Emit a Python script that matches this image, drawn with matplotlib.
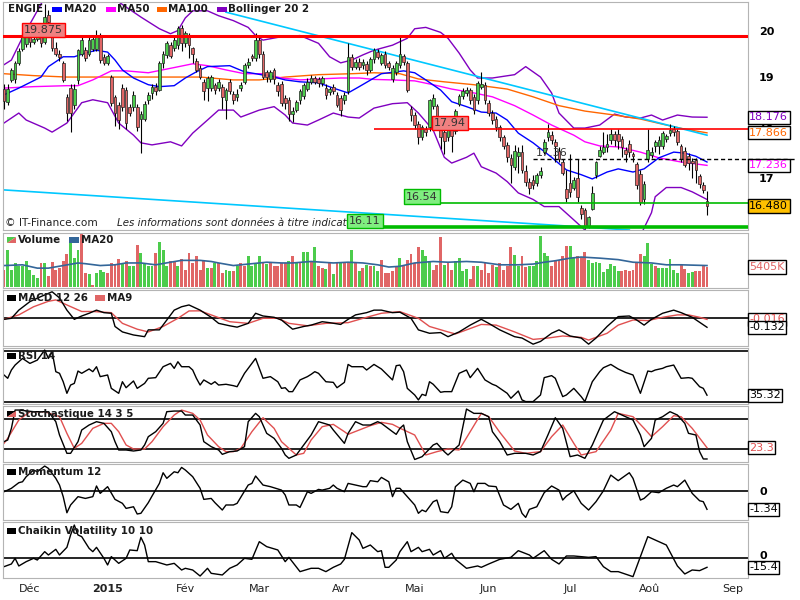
import matplotlib
matplotlib.use("Agg")
import matplotlib.pyplot as plt
from matplotlib.patches import Rectangle, Polygon
from matplotlib.ticker import NullLocator, NullFormatter
import numpy as np

plt.rcParams["font.family"] = "DejaVu Sans"

# daily candles, index 0 = 20 Nov 2014 ... 190 = 21 Aug 2015
opens = [18.75, 18.48, 18.94, 18.95, 19.30, 19.60, 19.70, 19.85, 19.75, 19.82,
         19.90, 19.75, 20.35, 19.85, 19.62, 19.50, 19.30, 18.58, 18.78, 18.42,
         18.94, 19.50, 19.57, 19.50, 19.60, 19.60, 19.88, 19.42, 19.30, 19.00,
         18.58, 18.42, 18.78, 18.73, 18.38, 18.38, 18.38, 18.15, 18.15, 18.52,
         18.67, 18.80, 18.73, 19.30, 19.47, 19.68, 19.62, 19.68, 20.05, 19.72,
         19.90, 19.62, 19.35, 19.20, 18.90, 18.78, 18.78, 18.83, 18.78, 18.80,
         18.52, 18.90, 18.65, 18.58, 18.77, 18.90, 19.25, 19.45, 19.40, 19.80,
         19.50, 19.10, 18.95, 19.15, 18.83, 18.86, 18.56, 18.52, 18.25, 18.32,
         18.52, 18.60, 18.75, 18.90, 18.97, 18.95, 18.88, 18.78, 18.68, 18.80,
         18.62, 18.56, 18.52, 18.70, 19.42, 19.22, 19.32, 19.25, 19.28, 19.15,
         19.38, 19.53, 19.30, 19.50, 19.30, 18.95, 19.10, 19.25, 19.45, 19.30,
         18.35, 18.22, 18.05, 17.78, 17.95, 17.98, 18.40, 18.40, 18.15, 17.88,
         17.78, 17.92, 17.90, 18.45, 18.60, 18.67, 18.73, 18.58, 18.52, 18.80,
         18.83, 18.46, 18.27, 18.15, 17.98, 17.78, 17.62, 17.38, 17.20, 17.42,
         17.50, 17.12, 16.93, 16.96, 16.90, 17.05, 17.50, 17.78, 17.82, 17.68,
         17.52, 17.30, 16.80, 16.90, 16.82, 17.00, 16.45, 16.40, 16.10, 16.42,
         17.05, 17.42, 17.50, 17.58, 17.72, 17.85, 17.85, 17.75, 17.53, 17.65,
         17.45, 17.26, 17.08, 16.60, 17.35, 17.43, 17.60, 17.60, 17.60, 17.75,
         17.86, 17.95, 17.90, 17.60, 17.52, 17.42, 17.32, 17.33, 17.03, 16.86, 16.58]
closes = [18.50, 18.76, 19.15, 19.30, 19.55, 19.88, 19.85, 19.75, 19.82, 19.90,
          19.72, 20.30, 20.20, 19.62, 19.50, 19.42, 18.94, 18.27, 18.27, 18.76,
          19.57, 19.80, 19.40, 19.80, 19.82, 19.90, 19.36, 19.30, 19.45, 18.46,
          18.27, 18.12, 18.38, 18.06, 18.27, 18.62, 17.98, 18.25, 18.45, 18.62,
          18.80, 18.70, 19.30, 19.50, 19.72, 19.45, 19.79, 20.05, 19.72, 19.95,
          19.68, 19.50, 19.15, 19.00, 18.70, 18.98, 19.00, 18.73, 18.90, 18.58,
          18.73, 18.70, 18.52, 18.65, 18.84, 19.25, 19.32, 19.40, 19.80, 19.50,
          19.00, 19.00, 19.10, 18.95, 18.70, 18.46, 18.46, 18.25, 18.30, 18.48,
          18.70, 18.83, 18.90, 18.98, 18.90, 18.87, 18.97, 18.63, 18.75, 18.72,
          18.42, 18.32, 18.62, 19.42, 19.22, 19.32, 19.22, 19.32, 19.15, 19.38,
          19.57, 19.42, 19.47, 19.25, 19.22, 19.20, 19.30, 19.50, 19.32, 18.73,
          18.22, 18.02, 17.78, 17.98, 17.88, 18.52, 18.56, 18.05, 17.78, 17.70,
          17.95, 17.80, 18.30, 18.60, 18.70, 18.73, 18.52, 18.32, 18.87, 18.86,
          18.52, 18.27, 18.12, 17.98, 17.78, 17.60, 17.40, 17.25, 17.52, 17.50,
          17.15, 16.93, 16.82, 16.87, 17.05, 17.12, 17.68, 17.88, 17.72, 17.60,
          17.35, 17.10, 16.63, 16.73, 16.96, 16.65, 16.33, 16.10, 16.28, 16.72,
          17.30, 17.53, 17.58, 17.65, 17.85, 17.72, 17.70, 17.58, 17.45, 17.50,
          17.41, 16.87, 16.55, 16.88, 17.53, 17.50, 17.68, 17.72, 17.86, 17.80,
          17.92, 17.88, 17.68, 17.35, 17.25, 17.28, 17.29, 17.15, 16.88, 16.78, 16.48]
highs = [18.85, 18.85, 19.20, 19.35, 19.62, 19.95, 19.95, 19.95, 19.90, 19.98,
         20.00, 20.60, 20.45, 19.95, 19.75, 19.58, 19.35, 18.65, 18.85, 18.85,
         19.60, 19.90, 19.65, 19.90, 19.90, 20.02, 19.95, 19.50, 19.50, 19.05,
         18.62, 18.48, 18.85, 18.80, 18.45, 18.70, 18.45, 18.30, 18.50, 18.68,
         18.85, 18.88, 19.35, 19.55, 19.78, 19.75, 19.85, 20.10, 20.12, 20.00,
         19.95, 19.65, 19.40, 19.25, 18.95, 19.02, 19.05, 18.88, 18.95, 18.85,
         18.78, 18.95, 18.70, 18.75, 18.90, 19.30, 19.40, 19.50, 19.95, 19.85,
         19.55, 19.15, 19.15, 19.20, 18.90, 18.92, 18.62, 18.58, 18.38, 18.52,
         18.75, 18.88, 18.98, 19.05, 19.02, 19.00, 19.02, 18.85, 18.80, 18.85,
         18.68, 18.62, 18.68, 19.72, 19.50, 19.38, 19.40, 19.38, 19.35, 19.42,
         19.62, 19.60, 19.52, 19.55, 19.35, 19.25, 19.35, 19.85, 19.50, 19.35,
         18.40, 18.28, 18.10, 18.02, 18.00, 18.55, 18.65, 18.45, 18.20, 17.95,
         18.00, 17.98, 18.35, 18.65, 18.78, 18.80, 18.78, 18.65, 18.92, 19.10,
         18.90, 18.52, 18.32, 18.20, 18.02, 17.82, 17.68, 17.45, 17.62, 17.58,
         17.62, 17.25, 17.00, 17.05, 17.10, 17.20, 17.75, 18.05, 17.90, 17.75,
         17.58, 17.35, 17.15, 17.45, 17.02, 17.35, 16.50, 16.45, 16.30, 16.85,
         17.32, 17.60, 17.88, 17.85, 17.95, 17.90, 17.95, 17.80, 17.58, 17.72,
         17.50, 17.30, 17.15, 16.95, 17.95, 17.58, 17.72, 17.80, 17.90, 17.85,
         18.05, 18.00, 17.95, 17.65, 17.58, 17.48, 17.38, 17.38, 17.08, 16.92, 16.75]
lows = [18.35, 18.42, 18.90, 18.88, 19.25, 19.55, 19.65, 19.65, 19.70, 19.78,
        19.65, 19.70, 20.10, 19.55, 19.45, 19.35, 18.90, 18.10, 17.88, 18.35,
        18.85, 19.45, 19.35, 19.45, 19.55, 19.55, 19.30, 19.25, 19.25, 18.40,
        18.00, 17.95, 18.30, 17.95, 18.20, 18.30, 17.90, 17.48, 18.10, 18.45,
        18.55, 18.62, 18.70, 19.20, 19.40, 19.40, 19.55, 19.60, 19.55, 19.65,
        19.40, 19.30, 19.10, 18.95, 18.52, 18.50, 18.70, 18.65, 18.70, 18.35,
        18.15, 18.65, 18.45, 18.50, 18.70, 18.85, 19.20, 19.35, 19.35, 19.40,
        18.95, 18.90, 18.90, 18.85, 18.60, 18.40, 18.35, 18.10, 18.08, 18.28,
        18.45, 18.55, 18.70, 18.85, 18.85, 18.80, 18.82, 18.55, 18.62, 18.65,
        18.38, 18.20, 18.45, 18.65, 19.15, 19.18, 19.15, 19.18, 19.05, 19.10,
        19.30, 19.38, 19.25, 19.20, 19.15, 18.90, 19.05, 19.20, 19.25, 18.68,
        18.10, 17.95, 17.65, 17.72, 17.80, 17.90, 18.35, 17.95, 17.55, 17.45,
        17.70, 17.50, 17.85, 18.40, 18.55, 18.60, 18.45, 18.25, 18.45, 18.75,
        18.45, 18.20, 18.05, 17.90, 17.70, 17.55, 17.30, 16.90, 17.15, 17.10,
        17.10, 16.85, 16.70, 16.80, 16.85, 17.00, 17.45, 17.70, 17.65, 17.30,
        17.30, 17.05, 16.55, 16.65, 16.78, 16.55, 16.25, 16.07, 16.08, 16.40,
        17.00, 17.40, 17.45, 17.50, 17.65, 17.60, 17.55, 17.40, 17.30, 17.40,
        17.30, 16.80, 16.50, 16.52, 17.30, 17.38, 17.50, 17.45, 17.55, 17.68,
        17.80, 17.80, 17.62, 17.30, 17.20, 17.15, 17.00, 16.90, 16.82, 16.72, 16.32]

# volume in millions, 1 = green bar
volume = [4.5, 9.9, 4.7, 6.5, 5.6, 5.6, 6.9, 4.5, 3.3, 2.4,
          6.5, 6.5, 3.1, 6.8, 4.7, 5.1, 6.9, 8.9, 11.9, 7.8,
          9.9, 14.4, 3.8, 3.6, 0.6, 3.8, 4.5, 4.0, 3.8, 6.5,
          6.0, 7.6, 6.5, 6.9, 5.6, 5.8, 11.4, 9.2, 6.5, 5.6,
          5.6, 9.2, 12.3, 9.9, 5.6, 6.9, 6.9, 5.6, 7.6, 4.7,
          9.2, 6.5, 8.3, 4.7, 6.9, 5.1, 5.1, 6.5, 6.5, 3.8,
          4.5,
          4.2, 4.2, 5.8, 6.5, 5.8, 8.3, 5.6, 6.5, 8.5, 6.5,
          6.3, 6.5, 5.8, 5.8, 6.5, 6.5, 7.1, 8.5, 6.5, 6.7,
          9.5, 9.5, 6.9, 10.8, 5.6, 5.1, 4.9, 6.5, 3.6, 6.5,
          6.5, 6.5, 6.5, 10.1, 6.5, 4.2, 5.1, 6.0, 5.6, 5.6,
          4.2, 7.4, 3.8, 3.8, 4.2, 5.4, 7.8,
          5.6, 7.2, 9.0, 6.5, 10.8, 9.9, 8.5, 6.9, 4.5, 6.0,
          13.5, 6.0, 6.5, 4.5, 6.9, 7.8, 4.2, 4.9, 2.2, 5.6,
          5.8, 4.7, 6.5, 3.8, 6.0, 5.4, 6.5, 4.7, 5.6, 10.8,
          8.7, 5.8, 8.5, 5.4, 5.8, 5.8, 6.9, 13.7, 9.2, 8.5,
          5.6, 6.9, 7.2, 8.5, 11.2, 11.2, 7.8, 8.3, 8.1, 9.4,
          7.2, 6.5, 6.7, 6.5, 4.0, 4.9, 6.3, 5.8, 4.2, 4.2,
          4.7, 4.2, 4.7, 6.7, 9.0, 8.5, 11.9, 6.3, 5.8, 5.1,
          5.1, 5.1, 7.6, 4.7, 3.8, 5.9, 4.9, 3.8, 4.0, 4.2,
          4.2, 5.6, 5.405]
vol_up = [0, 1, 1, 1, 1, 1, 1, 1, 1, 1,
          0, 1, 0, 0, 0, 0, 0, 0, 1, 1,
          1, 0, 0, 1, 0, 1, 1, 1, 0, 0,
          0, 0, 1, 0, 1, 1, 0, 1, 1, 1,
          1, 0, 1, 1, 1, 0, 0, 1, 0, 0,
          0, 0, 0, 0, 0, 1, 0, 1, 0, 0,
          1,
          1, 0, 1, 0, 0, 1, 1, 1, 1, 0,
          1, 0, 0, 0, 0, 0, 1, 0, 1, 0,
          1, 1, 0, 1, 0, 0, 1, 0, 1, 0,
          1, 0, 0, 1, 0, 1, 0, 1, 0, 1,
          1, 0, 0, 0, 0, 0, 1,
          0, 0, 0, 0, 0, 1, 1, 1, 0, 0,
          0, 1, 0, 0, 1, 1, 1, 1, 0, 0,
          1, 0, 0, 0, 0, 1, 0, 0, 0, 0,
          1, 1, 0, 0, 1, 1, 1, 1, 1, 1,
          0, 0, 0, 0, 0, 1, 1, 0, 0, 0,
          1, 1, 1, 1, 1, 1, 1, 1, 1, 0,
          0, 0, 0, 0, 0, 1, 1, 1, 0, 1,
          1, 1, 1, 1, 1, 0, 0, 1, 1, 0,
          0, 0, 0]

# indicator lines as (day index, value) vertices
ma20_x = [0, 4, 10, 12, 16, 19, 22, 25, 28, 30, 32, 35, 39, 42, 46, 49, 52, 55, 61, 65,
          68, 73, 76, 80, 85, 89, 93, 96, 100, 102, 108, 111, 114, 118, 121, 125, 129, 133, 136, 139,
          143, 148, 152, 156, 159, 163, 166, 170, 173, 177, 181, 184, 187, 190]
ma20_y = [18.63, 18.77, 19.00, 19.22, 19.43, 19.43, 19.51, 19.57, 19.53, 19.36,
          19.15, 18.98, 18.84, 18.80, 18.82, 18.98, 19.11, 19.22, 19.24, 19.11,
          19.07, 19.00, 18.94, 18.90, 18.88, 18.77, 18.67, 18.80, 18.98, 19.07,
          19.13, 19.09, 18.94, 18.73, 18.49, 18.39, 18.28, 18.26, 18.12, 17.86,
          17.67, 17.39, 17.15, 17.06, 16.98, 17.11, 17.17, 17.11, 17.17, 17.38,
          17.49, 17.47, 17.41, 17.30]
ma50_x = [0, 8, 17, 20, 24, 29, 33, 39, 46, 51, 55, 60, 65, 70, 75, 80, 85, 91, 96, 100,
          105, 111, 116, 121, 127, 132, 138, 143, 148, 154, 157, 161, 166, 172, 177, 183, 190]
ma50_y = [18.77, 18.80, 18.82, 18.82, 18.94, 19.13, 19.13, 19.09, 19.20, 19.28,
          19.24, 19.15, 19.07, 19.07, 18.98, 18.94, 18.96, 18.98, 18.98, 18.95,
          18.94, 18.92, 18.84, 18.75, 18.67, 18.59, 18.41, 18.22, 18.02, 17.82,
          17.69, 17.61, 17.59, 17.49, 17.38, 17.30, 17.236]
ma100_x = [0, 8, 17, 26, 35, 44, 53, 62, 69, 76, 85, 94, 100, 107, 112, 119, 127, 136, 143, 150,
           157, 165, 172, 179, 184, 190]
ma100_y = [19.07, 19.03, 19.00, 19.00, 19.00, 19.00, 19.00, 18.94, 18.94, 19.00,
           19.05, 19.07, 19.09, 19.07, 18.96, 18.90, 18.84, 18.75, 18.59, 18.41,
           18.30, 18.22, 18.14, 18.02, 17.94, 17.866]
bb_up_x = [0, 2, 5, 9, 12, 16, 24, 31, 37, 42, 45, 47, 49, 51, 55, 58, 62, 66, 68, 70,
           74, 80, 85, 88, 91, 94, 97, 100, 105, 109, 111, 114, 118, 120, 123, 126, 128, 132, 138, 141,
           145, 148, 150, 154, 157, 161, 165, 168, 172, 175, 178, 182, 186, 190]
bb_up_y = [19.26, 19.36, 19.85, 20.44, 20.90, 21.00, 21.00, 20.64, 20.30, 20.04,
           19.93, 20.00, 20.28, 20.44, 20.44, 20.33, 20.22, 20.07, 19.89, 19.79,
           19.85, 19.89, 19.72, 19.43, 19.30, 19.36, 19.47, 19.57, 19.68, 19.83,
           20.04, 20.07, 19.96, 19.83, 19.51, 19.15, 18.98, 18.98, 19.05, 19.22,
           19.00, 18.67, 18.26, 17.96, 17.96, 18.02, 18.24, 18.18, 18.16, 18.22,
           18.12, 18.22, 18.18, 18.176]
bb_lo_x = [0, 4, 6, 11, 13, 17, 21, 24, 28, 31, 35, 37, 40, 45, 48, 51, 55, 58, 62, 64,
           69, 73, 76, 78, 82, 85, 89, 93, 96, 100, 105, 109, 112, 116, 119, 121, 125, 127, 129, 133,
           136, 139, 143, 146, 150, 154, 157, 160, 166, 172, 175, 176, 179, 183, 186, 190]
bb_lo_y = [18.06, 18.26, 18.12, 17.96, 17.88, 18.06, 18.47, 18.53, 18.47, 18.06,
           17.82, 17.67, 17.63, 17.69, 17.61, 17.86, 18.12, 18.32, 18.32, 18.18,
           18.32, 18.39, 18.22, 18.06, 18.02, 18.12, 18.26, 18.18, 18.16, 18.36,
           18.45, 18.47, 18.26, 17.92, 17.39, 17.28, 17.39, 17.47, 17.21, 17.09,
           16.93, 16.72, 16.60, 16.47, 16.47, 16.23, 16.05, 15.90, 15.85, 15.95,
           16.36, 16.65, 16.82, 16.82, 16.74, 16.60]
trend_hi_x = [60, 190]
trend_hi_y = [20.41, 17.82]
trend_lo_x = [-1, 169]
trend_lo_y = [16.78, 16.05]

vma_x = [0, 5, 9, 12, 16, 20, 22, 26, 30, 33, 37, 41, 45, 48, 53, 56, 58, 62, 67, 71,
         75, 78, 83, 86, 89, 93, 97, 101, 104, 107, 111, 116, 120, 125, 129, 134, 139, 143, 146, 149,
         153, 156, 161, 166, 170, 175, 179, 183, 190]
vma_y = [5.8, 6.0, 5.1, 5.1, 5.8, 6.5, 6.3, 5.8, 6.0, 6.5, 6.5, 6.0, 6.7, 7.2, 7.2, 6.9, 6.5, 5.8, 6.3, 6.7,
         6.5, 6.5, 6.9, 6.7, 6.5, 6.7, 6.5, 6.0, 5.4, 5.6, 6.5, 6.9, 6.7, 6.9, 6.7, 6.0, 6.0, 6.2, 6.7, 7.1,
         7.8, 8.1, 7.8, 7.4, 6.7, 6.5, 6.0, 6.0, 5.8]

macd_x = [0, 2, 4, 7, 10, 13, 15, 17, 19, 21, 23, 25, 27, 29, 30, 32, 35, 38, 39, 42,
          44, 46, 48, 50, 53, 56, 58, 61, 63, 66, 68, 70, 73, 75, 78, 81, 83, 86, 88, 91,
          93, 95, 98, 100, 102, 105, 107, 110, 112, 115, 118, 120, 123, 126, 129, 131, 134, 138, 140, 143,
          145, 148, 150, 153, 156, 158, 160, 163, 166, 169, 171, 173, 175, 178, 181, 183, 186, 190]
macd_y = [-0.015, 0.0, 0.12, 0.245, 0.32, 0.39, 0.30, 0.12, -0.015, 0.034,
          0.074, 0.12, 0.083, 0.074, -0.12, -0.2, -0.245, -0.27, -0.17, -0.17,
          -0.025, 0.12, 0.17, 0.196, 0.12, 0.015, -0.074, -0.11, -0.13, -0.074,
          0.074, 0.034, 0.015, -0.025, -0.16, -0.12, -0.1, -0.05, -0.064, -0.09,
          -0.015, 0.05, 0.083, 0.12, 0.12, 0.083, 0.09, 0.0, -0.17, -0.22,
          -0.21, -0.27, -0.2, -0.1, -0.015, -0.074, -0.17, -0.27, -0.29, -0.38,
          -0.34, -0.22, -0.17, -0.26, -0.29, -0.38, -0.29, -0.12, 0.025, 0.034,
          -0.025, -0.1, -0.015, 0.074, 0.12, 0.083, 0.015, -0.132]
sig_x = [0, 4, 8, 12, 14, 17, 21, 24, 29, 32, 36, 39, 43, 47, 50, 53, 56, 61, 66, 70,
         74, 77, 82, 87, 93, 98, 102, 107, 112, 115, 120, 122, 126, 129, 133, 138, 143, 147, 151, 156,
         158, 163, 166, 170, 174, 178, 182, 185, 188, 190]
sig_y = [-0.015, 0.05, 0.17, 0.25, 0.27, 0.196, 0.1, 0.1, 0.083, -0.074,
         -0.16, -0.2, -0.12, 0.0, 0.108, 0.11, 0.05, -0.05, -0.074, 0.0,
         0.0, -0.074, -0.11, -0.074, -0.064, 0.015, 0.074, 0.098, 0.0, -0.12,
         -0.2, -0.23, -0.15, -0.09, -0.1, -0.2, -0.31, -0.29, -0.26, -0.28,
         -0.32, -0.22, -0.1, -0.025, -0.034, 0.015, 0.05, 0.05, 0.015, -0.016]

rsi_x = [0, 1, 2, 3, 5, 7, 9, 10, 11, 12, 13, 14, 15, 16, 17, 18, 19, 20, 21, 23,
         24, 25, 26, 28, 29, 31, 32, 33, 35, 36, 38, 39, 41, 43, 45, 46, 47, 48, 50, 51,
         52, 53, 54, 56, 57, 58, 60, 62, 63, 65, 66, 68, 70, 72, 74, 75, 76, 77, 78, 80,
         82, 83, 84, 85, 87, 89, 90, 92, 93, 94, 97, 98, 100, 101, 102, 105, 106, 107, 108, 109,
         111, 112, 113, 114, 115, 116, 118, 119, 121, 123, 125, 126, 128, 130, 132, 133, 136, 137, 139, 140,
         141, 143, 145, 146, 148, 149, 151, 152, 154, 156, 157, 159, 161, 162, 164, 166, 168, 170, 172, 174,
         175, 176, 178, 179, 181, 183, 185, 186, 188, 189, 190]
rsi_y = [51.2, 48.6, 55.1, 59.0, 64.2, 60.3, 62.9, 66.9, 70.8, 64.2,
         69.5, 53.8, 52.5, 45.9, 36.8, 43.3, 44.6, 54.3, 52.5, 55.9,
         53.8, 57.7, 49.9, 51.2, 40.7, 36.8, 45.9, 41.2, 46.5, 40.7,
         44.6, 48.6, 49.1, 57.7, 60.3, 56.4, 61.6, 57.7, 57.7, 55.1,
         48.6, 43.3, 47.3, 43.9, 45.9, 43.3, 43.9, 42.8, 42.0, 52.5,
         56.4, 64.2, 48.6, 49.9, 45.9, 40.7, 41.2, 38.1, 38.1, 47.3,
         49.9, 51.7, 53.8, 52.5, 45.9, 45.4, 41.2, 45.4, 59.5, 57.7,
         57.7, 55.1, 59.5, 57.7, 55.9, 47.3, 58.5, 59.0, 53.8, 40.7,
         35.5, 31.6, 36.0, 35.0, 45.9, 43.9, 37.6, 38.1, 38.1, 52.5,
         55.1, 49.1, 56.4, 47.3, 43.9, 42.8, 36.8, 32.9, 38.6, 31.6,
         30.3, 30.3, 35.5, 49.1, 50.7, 48.6, 34.2, 35.5, 40.7, 34.2,
         30.3, 45.9, 53.8, 56.9, 59.5, 55.9, 53.2, 51.2, 36.8, 54.3,
         53.8, 55.1, 56.4, 57.7, 59.0, 48.6, 49.1, 48.6, 42.0, 40.7, 35.32]

stk_x = [0, 1, 2, 3, 4, 8, 12, 14, 15, 17, 18, 20, 21, 23, 25, 27, 29, 30, 31, 33,
         35, 37, 38, 39, 41, 43, 44, 46, 48, 49, 51, 53, 54, 56, 58, 59, 61, 63, 65, 66,
         68, 69, 71, 73, 75, 76, 77, 79, 81, 83, 85, 88, 89, 92, 93, 95, 97, 99, 101, 102,
         105, 106, 107, 108, 109, 111, 113, 116, 117, 119, 120, 123, 125, 127, 129, 131, 132, 134, 136, 138,
         139, 141, 143, 145, 147, 149, 151, 153, 155, 157, 159, 162, 165, 167, 170, 172, 173, 175, 176, 178,
         180, 182, 184, 185, 187, 188, 189, 190]
stk_y = [35.3, 38.6, 61.7, 98, 98, 94.7, 94.7, 74.9, 48.5, 12.2,
         12.2, 35.3, 58.4, 68.3, 74.9, 71.6, 55.1, 35.3, 18.8, 18.8,
         16.8, 18.8, 28.7, 45.2, 55.1, 71.6, 94.7, 96, 96, 88.1,
         88.1, 68.3, 35.3, 25.4, 18.8, 10.2, 15.5, 16.8, 25.4, 74.9,
         91.4, 84.8, 51.8, 41.9, 22.1, 8.9, 2.3, 8.9, 28.7, 48.5,
         74.9, 68.3, 58.4, 32, 51.8, 74.9, 68.3, 68.3, 74.9, 71.6,
         55.1, 49.8, 61.7, 68.3, 35.3, 0, 5.6, 28.7, 32, 15.5,
         8.9, 28.7, 100, 91.4, 91.4, 84.8, 55.1, 35.3, 8.9, 12.2,
         12.2, 12.2, 8.9, 15.5, 48.5, 82.8, 61.7, 5.6, 8.9, 2.3,
         28.7, 78.2, 94.7, 88.1, 78.2, 48.5, 25.4, 41.9, 78.2, 84.8,
         94.7, 88.1, 71.6, 51.8, 48.5, 15.5, 1, 1]
std_x = [0, 1, 4, 7, 11, 15, 17, 19, 21, 24, 27, 29, 31, 33, 35, 38, 40, 43, 46, 48,
         51, 53, 55, 58, 60, 62, 64, 67, 70, 73, 75, 79, 81, 83, 86, 89, 92, 93, 96, 99,
         102, 105, 107, 111, 114, 117, 120, 123, 126, 129, 131, 134, 138, 141, 145, 148, 151, 154, 156, 160,
         164, 166, 170, 173, 175, 178, 181, 183, 186, 190]
std_y = [32, 41.9, 78.2, 94.7, 94.7, 84.8, 51.8, 22.1, 32, 61.7,
         71.6, 71.6, 55.1, 28.7, 20.8, 20.8, 35.3, 65, 88.1, 98,
         91.4, 78.2, 48.5, 25.4, 15.5, 15.5, 22.1, 55.1, 82.8, 61.7,
         35.3, 8.9, 12.2, 38.6, 65, 69.6, 55.1, 49.8, 58.4, 67,
         73.6, 69.6, 62, 48.5, 8.9, 15.5, 20.8, 18.8, 55.1, 91.4,
         84.8, 53.8, 16.8, 12.2, 15.5, 45.2, 68.3, 32, 8.9, 15.5,
         58.4, 91.4, 84.8, 61.7, 45.2, 65, 86.8, 84.8, 61.7, 23.3]

mom_x = [0, 1, 2, 4, 5, 6, 8, 9, 11, 12, 14, 15, 16, 17, 18, 20, 22, 24, 25, 26,
         28, 30, 32, 33, 35, 36, 37, 39, 40, 42, 43, 44, 46, 47, 48, 49, 51, 53, 54, 56,
         57, 59, 60, 62, 63, 66, 67, 68, 70, 72, 75, 76, 77, 79, 80, 82, 83, 85, 86, 88,
         89, 90, 92, 93, 95, 97, 98, 99, 101, 102, 104, 105, 106, 107, 109, 111, 112, 113, 114, 116,
         117, 118, 120, 121, 122, 124, 126, 127, 128, 130, 131, 133, 135, 137, 139, 140, 141, 142, 144, 146,
         148, 150, 151, 152, 154, 156, 158, 160, 162, 164, 166, 169, 170, 172, 173, 175, 177, 179, 181, 182,
         184, 186, 188, 189, 190]
mom_y = [-0.05, 0.07, 0.2, 0.61, 0.68, 1.05, 1.54, 1.41, 1.83, 1.66,
         0.93, 0.44, -0.41, -1.59, -1.02, -0.41, -0.54, -0.41, 0.37, -0.17,
         0.32, -0.61, -0.9, -1.27, -1.15, -1.68, -1.63, -0.85, -0.37, 0.56,
         1.34, 0.93, 1.41, 1.34, 1.73, 1.54, 1.05, 0.2, -0.61, -0.54,
         -0.85, -1.39, -1.02, -1.02, -0.9, 0.44, 0.56, 1.1, 0.44, 0.32,
         0.07, -0.29, -1.02, -1.02, -1.2, -0.05, -0.17, 0.12, 0.07, 0.2,
         0.44, 0.2, -0.05, 0.56, 0.44, 0.32, 0.32, 0.76, 0.68, 1.0,
         0.68, -0.41, 0.2, 0.2, -0.41, -1.02, -1.63, -1.39, -1.51, -0.78,
         -0.66, -1.51, -1.59, -1.15, 0.32, 0.8, 0.56, -0.05, 0.56, 0.56,
         0.37, 0.32, -1.02, -1.34, -0.9, -1.63, -1.93, -1.34, -1.15, -0.12,
         0.37, 0.07, -0.66, -0.37, 0.02, -0.9, -1.39, -0.78, 0.02, 1.17,
         0.76, 1.34, 0.93, -0.66, -0.54, -0.05, -0.12, 0.2, 0.44, 0.32,
         0.8, -0.17, -0.71, -0.78, -1.34]

chk_x = [0, 2, 3, 4, 6, 8, 9, 11, 12, 14, 15, 17, 18, 19, 20, 21, 23, 24, 25, 27,
         28, 29, 31, 33, 34, 36, 37, 38, 39, 41, 44, 46, 48, 49, 51, 53, 55, 56, 59, 61,
         63, 65, 67, 69, 71, 74, 76, 77, 80, 83, 85, 87, 89, 91, 92, 94, 96, 97, 99, 101,
         102, 103, 104, 106, 107, 109, 110, 112, 113, 115, 116, 118, 119, 121, 122, 125, 128, 129, 131, 134,
         137, 139, 142, 143, 146, 148, 150, 152, 154, 158, 160, 162, 164, 166, 170, 174, 177, 179, 182, 184,
         186, 188, 190]
chk_y = [-14.3, -9.7, 0, -13.1, -5.7, 0, -2.9, 11.4, 5.7, 15.4,
         5.7, 18.8, 40, 57, 40, 37.1, 17.1, 11.4, 18.8, 0,
         -11.4, 2.9, -8.6, 0, 14.3, 13.1, 36, 22.8, -5.7, -5.7,
         -11.4, -8.6, -20, -17.1, -20, -30.3, -17.1, -25.7, -28.5, -17.1,
         -11.4, 0, -1.7, 28.5, 20, 14.3, -5.7, 1.7, -22.8, -17.1,
         -17.1, -22.8, -15.4, -9.7, -1.7, 44, 31.4, 17.1, 22.8, 11.4,
         13.1, -15.4, -15.4, -2.9, 11.4, 28.5, 11.4, 18.8, 11.4, 15.4,
         5.7, 13.1, 0, 8.6, -1.7, -17.1, -13.1, -15.4, -9.7, -1.7,
         1.7, 13.1, 5.7, 0, 13.1, -1.7, -9.7, 4, 4, 1.7,
         2.9, -14.3, -22.8, -22.8, -31.4, 37.1, 28.5, 22.8, -13.1, -26.8,
         -20, -21.1, -15.4]

month_pos = [7, 28, 49, 69, 91, 111, 131, 153, 174.5, 197]
month_lbl = ["Déc", "2015", "Fév", "Mar", "Avr", "Mai", "Jun", "Jul", "Aoû", "Sep"]

GREEN = "#4ccc4c"
RED = "#e06666"
W, H = 800, 600

fig = plt.figure(figsize=(8, 6), dpi=100)


def panel(top, bottom):
    ax = fig.add_axes([3 / W, 1 - bottom / H, 745 / W, (bottom - top) / H])
    ax.set_xlim(-0.27, 201.08)
    ax.set_xticks([])
    ax.set_yticks([])
    for s in ax.spines.values():
        s.set_color("#b4b4b4")
    return ax


def value_box(ax, y, text, color="black", face="white", z=6):
    ax.text(1.0015, y, text, transform=ax.get_yaxis_transform(), ha="left", va="center",
            fontsize=8, color=color, zorder=z, clip_on=False,
            bbox=dict(boxstyle="square,pad=0.14", fc=face, ec="black", lw=1))


def fx(px):
    return px / W


def fy(py):
    return 1 - py / H


def key(x0, y0, x1, y1, c1, c2=None):
    if c2 is None:
        fig.add_artist(Rectangle((fx(x0), fy(y1)), (x1 - x0) / W, (y1 - y0) / H,
                                 transform=fig.transFigure, fc=c1, ec="none"))
    else:
        fig.add_artist(Polygon([(fx(x0), fy(y0)), (fx(x1), fy(y0)), (fx(x0), fy(y1))],
                               transform=fig.transFigure, fc=c1, ec="none"))
        fig.add_artist(Polygon([(fx(x1), fy(y0)), (fx(x1), fy(y1)), (fx(x0), fy(y1))],
                               transform=fig.transFigure, fc=c2, ec="none"))


def key_text(x, y, s):
    fig.text(fx(x), fy(y), s, fontsize=7.4, fontweight="bold", color="#1a1a1a",
             ha="left", va="center")


ax_p = panel(2, 230)
ax_v = panel(233, 288)
ax_m = panel(290, 346)
ax_r = panel(348, 404)
ax_s = panel(406, 462)
ax_o = panel(464, 520)
ax_c = panel(522, 578)

# ---- price panel ----
days = np.arange(len(closes))
o = np.array(opens)
c = np.array(closes)
up = c >= o
body_lo = np.minimum(o, c)
body_h = np.maximum(np.abs(c - o), 0.015)

ax_p.set_yscale("log")
ax_p.plot(bb_up_x, bb_up_y, color="#8000c0", lw=1, zorder=2)
ax_p.plot(bb_lo_x, bb_lo_y, color="#8000c0", lw=1, zorder=2)
ax_p.plot(ma100_x, ma100_y, color="#ff6600", lw=1, zorder=2)
ax_p.plot(ma50_x, ma50_y, color="#ff00ff", lw=1, zorder=2)
ax_p.plot(ma20_x, ma20_y, color="#0000ff", lw=1, zorder=2)
ax_p.plot(trend_hi_x, trend_hi_y, color="#00c8ff", lw=1.2, zorder=2)
ax_p.plot(trend_lo_x, trend_lo_y, color="#00c8ff", lw=1.2, zorder=2)

ax_p.vlines(days, lows, highs, color="black", lw=0.8, zorder=3)
ax_p.bar(days[up], body_h[up], bottom=body_lo[up], width=0.72, color=GREEN,
         edgecolor="#222222", linewidth=0.5, zorder=4)
ax_p.bar(days[~up], body_h[~up], bottom=body_lo[~up], width=0.72, color=RED,
         edgecolor="#222222", linewidth=0.5, zorder=4)

ax_p.axhline(19.875, color="#ff0000", lw=2.2, zorder=5)
ax_p.hlines(17.94, 100, 201.08, color="#ff0000", lw=1.2, zorder=5)
ax_p.hlines(16.54, 108, 201.08, color="#00bb00", lw=1.2, zorder=5)
ax_p.hlines(16.11, 93, 201.08, color="#00bb00", lw=2.6, zorder=5)
ax_p.plot([143, 214], [17.36, 17.36], color="black", lw=1, ls=(0, (3, 2)),
          zorder=5, clip_on=False)
ax_p.text(143.8, 17.38, "17.36", fontsize=8, color="#333333", va="bottom", zorder=5)

ax_p.text(5.4, 19.9, "19.875", ha="left", va="bottom", fontsize=8, color="#333333", zorder=7,
          bbox=dict(boxstyle="square,pad=0.2", fc="#f08080", ec="#ff0000", lw=1))
ax_p.text(116.2, 17.96, "17.94", ha="left", va="bottom", fontsize=8, color="#333333", zorder=7,
          bbox=dict(boxstyle="square,pad=0.2", fc="#f08080", ec="#ff0000", lw=1))
ax_p.text(108.6, 16.56, "16.54", ha="left", va="bottom", fontsize=8, color="#333333", zorder=7,
          bbox=dict(boxstyle="square,pad=0.2", fc="#80ee80", ec="#00bb00", lw=1))
ax_p.text(93.3, 16.12, "16.11", ha="left", va="bottom", fontsize=8, color="#333333", zorder=7,
          bbox=dict(boxstyle="square,pad=0.2", fc="#80ee80", ec="#00bb00", lw=1))

ax_p.text(fx(5), fy(223), "© IT-Finance.com", transform=fig.transFigure, fontsize=7.6,
          color="#222222", va="center", zorder=6)
ax_p.text(fx(117), fy(223), "Les informations sont données à titre indicatif.",
          transform=fig.transFigure, fontsize=7.4, style="italic", color="#222222",
          va="center", zorder=6)

ax_p.set_ylim(16.05, 20.64)
ax_p.yaxis.tick_right()
ax_p.set_yticks([17, 18, 19, 20])
ax_p.set_yticklabels(["17", "18", "19", "20"], fontweight="bold")
ax_p.yaxis.set_minor_locator(NullLocator())
ax_p.yaxis.set_minor_formatter(NullFormatter())
ax_p.tick_params(axis="y", length=0, pad=8, labelsize=8)

value_box(ax_p, 18.176, "18.176", color="#8000c0")
value_box(ax_p, 17.866, "17.866", color="#ff6600")
value_box(ax_p, 17.236, "17.236", color="#ff00ff")
value_box(ax_p, 16.48, "16.480", face="#ffc000")

# ---- volume ----
ax_v.bar(days, volume, width=0.78, color=[GREEN if u else RED for u in vol_up])
ax_v.plot(vma_x, vma_y, color="#336699", lw=1.2)
ax_v.set_ylim(-0.27, 14.6)
value_box(ax_v, 5.405, "5405K", color=RED)

# ---- MACD ----
ax_m.axhline(0, color="black", lw=1.2)
ax_m.plot(sig_x, sig_y, color="#e05050", lw=1)
ax_m.plot(macd_x, macd_y, color="black", lw=1)
ax_m.set_ylim(-0.407, 0.416)
value_box(ax_m, -0.016, "-0.016", color="#e05050")
value_box(ax_m, -0.132, "-0.132", z=7)

# ---- RSI ----
ax_r.axhline(70, color="black", lw=1.2)
ax_r.axhline(30, color="black", lw=1.2)
ax_r.plot(rsi_x, rsi_y, color="black", lw=1)
ax_r.set_ylim(28.4, 72.4)
value_box(ax_r, 35.32, "35.32")

# ---- Stochastic ----
ax_s.axhline(80, color="black", lw=1.2)
ax_s.axhline(20, color="black", lw=1.2)
ax_s.plot(std_x, std_y, color="#e05050", lw=1)
ax_s.plot(stk_x, stk_y, color="black", lw=1)
ax_s.set_ylim(-5, 106)
value_box(ax_s, 23.3, "23.3", color="#e05050", z=7)

# ---- Momentum ----
ax_o.axhline(0, color="black", lw=1.2)
ax_o.plot(mom_x, mom_y, color="black", lw=1)
ax_o.set_ylim(-2.12, 1.98)
ax_o.yaxis.tick_right()
ax_o.set_yticks([0])
ax_o.set_yticklabels(["0"], fontweight="bold")
ax_o.tick_params(axis="y", length=0, pad=8, labelsize=8)
value_box(ax_o, -1.34, "-1.34")

# ---- Chaikin volatility ----
ax_c.axhline(0, color="black", lw=1.2)
ax_c.plot(chk_x, chk_y, color="black", lw=1)
ax_c.set_ylim(-33.7, 62.2)
ax_c.yaxis.tick_right()
ax_c.set_yticks([6])
ax_c.set_yticklabels(["0"], fontweight="bold")
ax_c.tick_params(axis="y", length=0, pad=8, labelsize=8)
value_box(ax_c, -15.4, "-15.4")

ax_c.set_xticks(month_pos)
ax_c.set_xticklabels(month_lbl, fontsize=8, color="#222222")
ax_c.tick_params(axis="x", length=0, pad=4.5)
ax_c.get_xticklabels()[1].set_fontweight("bold")

# ---- panel keys ----
key_text(8, 9.5, "ENGIE")
key(52, 7, 62, 12, "#0000ff")
key_text(64, 9.5, "MA20")
key(106, 7, 116, 12, "#ff00ff")
key_text(117, 9.5, "MA50")
key(157, 7, 167, 12, "#ff6600")
key_text(168, 9.5, "MA100")
key(217, 7, 227, 12, "#8000c0")
key_text(228, 9.5, "Bollinger 20 2")

key(7, 237, 16, 243, GREEN, RED)
key_text(18, 240, "Volume")
key(69, 237, 79, 243, "#336699")
key_text(81, 240, "MA20")

key(7, 295, 16, 301, "black")
key_text(18, 298, "MACD 12 26")
key(95, 295, 105, 301, RED)
key_text(107, 298, "MA9")

key(7, 353, 16, 359, "black")
key_text(18, 356, "RSI 14")

key(7, 411, 16, 417, "black", RED)
key_text(18, 414, "Stochastique 14 3 5")

key(7, 469, 16, 475, "black")
key_text(18, 472, "Momentum 12")

key(7, 528, 16, 534, "black")
key_text(18, 531, "Chaikin Volatility 10 10")

fig.savefig("out.png", dpi=100)
